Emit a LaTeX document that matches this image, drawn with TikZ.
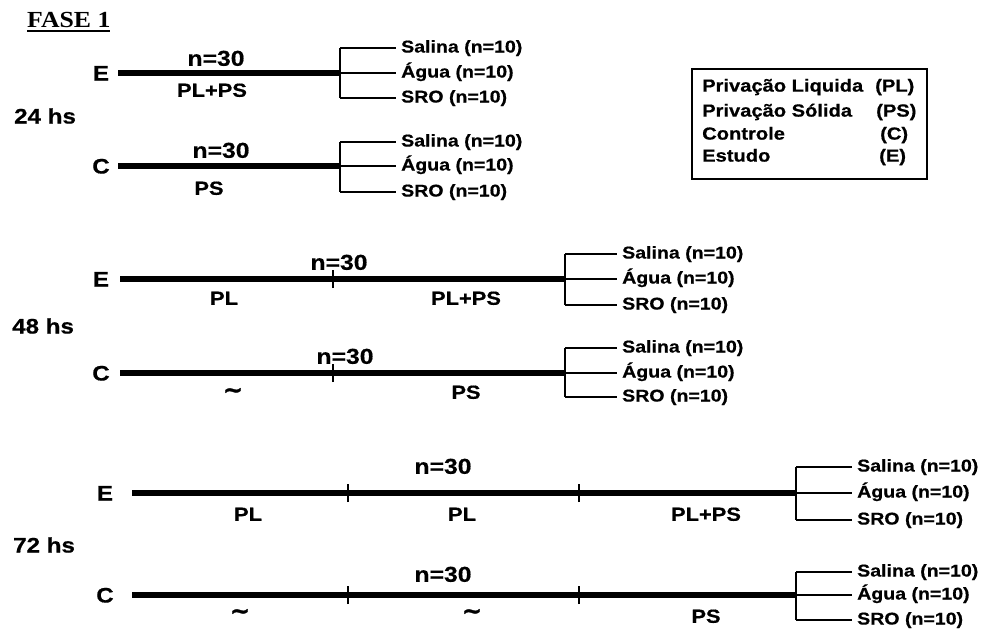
\documentclass[tikz,border=0pt]{standalone}
\usepackage{fontspec}
\newfontfamily\arb[FakeStretch=1.15, BoldFeatures={FakeBold=0.6}]{Liberation Sans}
\newfontfamily\tldfont[FakeBold=1.2]{DejaVu Sans}
\newfontfamily\tms[FakeStretch=1.12]{Liberation Serif}
\newsavebox\titlebox
\begin{document}
\begin{tikzpicture}[x=1pt,y=-1pt,
  mainline/.style={line width=6pt},
  brline/.style={line width=2pt},
  tickline/.style={line width=1.4pt},
  lab/.style={font=\arb\bfseries\fontsize{17}{19}\selectfont, inner sep=0pt, anchor=west, text height=12.5pt, text depth=3.5pt},
  grp/.style={font=\arb\bfseries\fontsize{21}{23}\selectfont, inner sep=0pt, text height=15pt, text depth=0pt},
  ncount/.style={font=\arb\bfseries\fontsize{21.5}{23}\selectfont, inner sep=0pt, text height=15.5pt, text depth=0pt},
  cond/.style={font=\arb\bfseries\fontsize{19}{21}\selectfont, inner sep=0pt, text height=13.6pt, text depth=0pt},
  tld/.style={font=\tldfont\bfseries\fontsize{24}{26}\selectfont, inner sep=0pt},
  hrs/.style={font=\arb\bfseries\fontsize{21}{23}\selectfont, inner sep=0pt, anchor=west, text height=15pt, text depth=0pt},
  leg/.style={font=\arb\bfseries\fontsize{17.5}{19}\selectfont, inner sep=0pt, anchor=west, text height=12.8pt, text depth=3.6pt}]
\useasboundingbox (0,0) rectangle (982,635);

% title
\node[font=\tms\bfseries\fontsize{23}{25}\selectfont, inner sep=0pt, anchor=west] (title) at (27,22)
  {\sbox\titlebox{FASE 1}\usebox\titlebox\llap{\rule[-5pt]{\wd\titlebox}{1.8pt}}};

% ---------- 24 hs ----------
\node[hrs] (h24) at (14,116) {24 hs};
% E
\node[grp] (e1) at (101,73) {E};
\coordinate (e1s) at (118,73);
\coordinate (e1b) at (340,73);
\coordinate (e1t) at (340,48);
\coordinate (e1d) at (340,98);
\draw[mainline] (e1s) -- (e1b);
\node[ncount] (e1n) at (216,58) {n=30};
\node[cond] (e1c) at (212,90) {PL+PS};
\node[lab] (e1sa) at (401,48) {Salina (n=10)};
\node[lab] (e1ag) at (401,73) {Água (n=10)};
\node[lab] (e1sr) at (401,98) {SRO (n=10)};
\draw[brline] (e1t) -- (e1d);
\draw[brline] (e1t) -- ([xshift=-5pt]e1sa.west);
\draw[brline] (e1b) -- ([xshift=-5pt]e1ag.west);
\draw[brline] (e1d) -- ([xshift=-5pt]e1sr.west);
% C
\node[grp] (c1) at (101,166) {C};
\coordinate (c1s) at (118,166);
\coordinate (c1b) at (340,166);
\coordinate (c1t) at (340,142);
\coordinate (c1d) at (340,192);
\draw[mainline] (c1s) -- (c1b);
\node[ncount] (c1n) at (221,150) {n=30};
\node[cond] (c1c) at (209,188) {PS};
\node[lab] (c1sa) at (401,142) {Salina (n=10)};
\node[lab] (c1ag) at (401,166) {Água (n=10)};
\node[lab] (c1sr) at (401,192) {SRO (n=10)};
\draw[brline] (c1t) -- (c1d);
\draw[brline] (c1t) -- ([xshift=-5pt]c1sa.west);
\draw[brline] (c1b) -- ([xshift=-5pt]c1ag.west);
\draw[brline] (c1d) -- ([xshift=-5pt]c1sr.west);

% ---------- legend ----------
\node[draw, line width=2pt, minimum width=235pt, minimum height=110pt, anchor=north west, inner sep=0pt] (legend) at (691,68) {};
\node[leg] (l1) at (702,87) {Privação Liquida};
\node[leg] (l2) at (702,112) {Privação Sólida};
\node[leg] (l3) at (702,135) {Controle};
\node[leg] (l4) at (702,157) {Estudo};
\node[leg] (l1b) at (875,87) {(PL)};
\node[leg] (l2b) at (876,112) {(PS)};
\node[leg] (l3b) at (880,135) {(C)};
\node[leg] (l4b) at (879,157) {(E)};

% ---------- 48 hs ----------
\node[hrs] (h48) at (12,326) {48 hs};
% E
\node[grp] (e2) at (101,279) {E};
\coordinate (e2s) at (120,279);
\coordinate (e2k) at (333,279);
\coordinate (e2b) at (565,279);
\coordinate (e2t) at (565,254);
\coordinate (e2d) at (565,305);
\draw[mainline] (e2s) -- (e2b);
\draw[tickline] ([yshift=-9pt]e2k) -- ([yshift=9pt]e2k);
\node[ncount] (e2n) at (339,262) {n=30};
\node[cond] (e2c1) at (224,298) {PL};
\node[cond] (e2c2) at (466,298) {PL+PS};
\node[lab] (e2sa) at (622,254) {Salina (n=10)};
\node[lab] (e2ag) at (622,279) {Água (n=10)};
\node[lab] (e2sr) at (622,305) {SRO (n=10)};
\draw[brline] (e2t) -- (e2d);
\draw[brline] (e2t) -- ([xshift=-5pt]e2sa.west);
\draw[brline] (e2b) -- ([xshift=-5pt]e2ag.west);
\draw[brline] (e2d) -- ([xshift=-5pt]e2sr.west);
% C
\node[grp] (c2) at (101,373) {C};
\coordinate (c2s) at (120,373);
\coordinate (c2k) at (333,373);
\coordinate (c2b) at (565,373);
\coordinate (c2t) at (565,348);
\coordinate (c2d) at (565,397);
\draw[mainline] (c2s) -- (c2b);
\draw[tickline] ([yshift=-9pt]c2k) -- ([yshift=9pt]c2k);
\node[ncount] (c2n) at (345,356) {n=30};
\node[tld] (c2c1) at (233,393) {\textasciitilde};
\node[cond] (c2c2) at (466,392) {PS};
\node[lab] (c2sa) at (622,348) {Salina (n=10)};
\node[lab] (c2ag) at (622,373) {Água (n=10)};
\node[lab] (c2sr) at (622,397) {SRO (n=10)};
\draw[brline] (c2t) -- (c2d);
\draw[brline] (c2t) -- ([xshift=-5pt]c2sa.west);
\draw[brline] (c2b) -- ([xshift=-5pt]c2ag.west);
\draw[brline] (c2d) -- ([xshift=-5pt]c2sr.west);

% ---------- 72 hs ----------
\node[hrs] (h72) at (13,545) {72 hs};
% E
\node[grp] (e3) at (105,493) {E};
\coordinate (e3s) at (132,493);
\coordinate (e3k1) at (348,493);
\coordinate (e3k2) at (579,493);
\coordinate (e3b) at (796,493);
\coordinate (e3t) at (796,467);
\coordinate (e3d) at (796,520);
\draw[mainline] (e3s) -- (e3b);
\draw[tickline] ([yshift=-9pt]e3k1) -- ([yshift=9pt]e3k1);
\draw[tickline] ([yshift=-9pt]e3k2) -- ([yshift=9pt]e3k2);
\node[ncount] (e3n) at (443,466) {n=30};
\node[cond] (e3c1) at (248,514) {PL};
\node[cond] (e3c2) at (462,514) {PL};
\node[cond] (e3c3) at (706,514) {PL+PS};
\node[lab] (e3sa) at (857,467) {Salina (n=10)};
\node[lab] (e3ag) at (857,493) {Água (n=10)};
\node[lab] (e3sr) at (857,520) {SRO (n=10)};
\draw[brline] (e3t) -- (e3d);
\draw[brline] (e3t) -- ([xshift=-5pt]e3sa.west);
\draw[brline] (e3b) -- ([xshift=-5pt]e3ag.west);
\draw[brline] (e3d) -- ([xshift=-5pt]e3sr.west);
% C
\node[grp] (c3) at (105,595) {C};
\coordinate (c3s) at (132,595);
\coordinate (c3k1) at (348,595);
\coordinate (c3k2) at (579,595);
\coordinate (c3b) at (796,595);
\coordinate (c3t) at (796,572);
\coordinate (c3d) at (796,620);
\draw[mainline] (c3s) -- (c3b);
\draw[tickline] ([yshift=-9pt]c3k1) -- ([yshift=9pt]c3k1);
\draw[tickline] ([yshift=-9pt]c3k2) -- ([yshift=9pt]c3k2);
\node[ncount] (c3n) at (443,574) {n=30};
\node[tld] (c3c1) at (240,614) {\textasciitilde};
\node[tld] (c3c2) at (472,614) {\textasciitilde};
\node[cond] (c3c3) at (706,616) {PS};
\node[lab] (c3sa) at (857,572) {Salina (n=10)};
\node[lab] (c3ag) at (857,595) {Água (n=10)};
\node[lab] (c3sr) at (857,620) {SRO (n=10)};
\draw[brline] (c3t) -- (c3d);
\draw[brline] (c3t) -- ([xshift=-5pt]c3sa.west);
\draw[brline] (c3b) -- ([xshift=-5pt]c3ag.west);
\draw[brline] (c3d) -- ([xshift=-5pt]c3sr.west);
\end{tikzpicture}
\end{document}
